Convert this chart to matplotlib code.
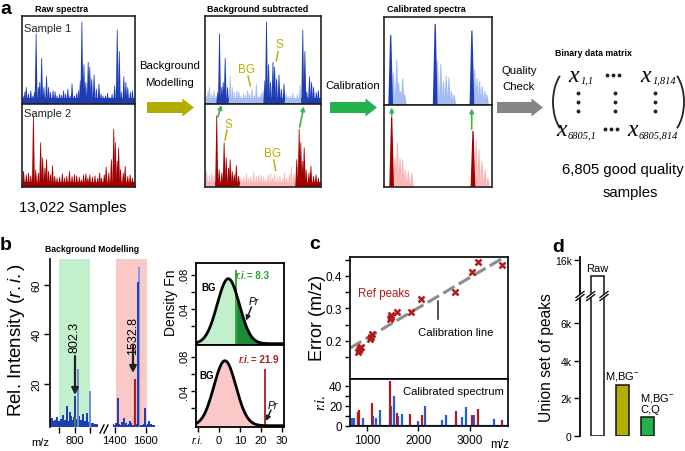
import numpy as np
import matplotlib
matplotlib.use('Agg')
import matplotlib.pyplot as plt
from matplotlib.patches import FancyArrow, Arc, Polygon

W, H = 685, 452
SANS = ['Liberation Sans', 'DejaVu Sans']
SERIF = ['Liberation Serif', 'DejaVu Serif']
plt.rcParams['font.family'] = SANS
plt.rcParams['mathtext.fontset'] = 'custom'
plt.rcParams['mathtext.rm'] = 'Liberation Sans'
plt.rcParams['mathtext.it'] = 'Liberation Sans:italic'
plt.rcParams['mathtext.bf'] = 'Liberation Sans:bold'

# ---------------- data ----------------
# panel a : schematic spectra (normalised position, relative height)
s1_pos = [.009, .026, .038, .058, .078, .096, .110, .125, .145, .157, .174, .194, .217, .235, .252,
          .275, .293, .310, .333, .351, .368, .386, .406, .426, .443, .464, .484, .501, .516, .530,
          .548, .565, .586, .600, .617, .638, .658, .681, .699, .716, .739, .757, .774, .797, .820,
          .843, .861, .878, .901, .919, .936, .959, .977]
s1_h = [.095, .141, .191, .115, .153, .095, .134, .802, .191, .248, .523, .191, .317, .191, .134,
        .153, .141, .095, .115, .103, .153, .115, .172, .095, .229, .095, .126, .153, .267, .935,
        .450, .248, .477, .420, .286, .332, .172, .229, .115, .095, .095, .126, .076, .115, .210,
        .844, .600, .141, .313, .248, .191, .134, .153]
s2_pos = [.014, .038, .058, .078, .101, .122, .145, .165, .183, .203, .217, .235, .252, .270, .290,
          .310, .333, .357, .377, .397, .420, .443, .464, .484, .507, .525, .545, .565, .583, .600,
          .623, .646, .670, .687, .704, .728, .745, .768, .791, .812, .826, .843, .855, .872, .896,
          .913, .936, .957, .977]
s2_h = [.191, .150, .171, .138, .862, .211, .171, .537, .354, .232, .333, .191, .150, .260, .130,
        .110, .122, .163, .110, .130, .191, .130, .150, .138, .122, .089, .150, .163, .110, .150,
        .122, .138, .110, .171, .110, .150, .244, .171, .333, .699, .537, .313, .476, .211, .171,
        .252, .130, .150, .110]
s1_signal = [(0.10, 0.205), (0.505, 0.69), (0.83, 1.0)]
s2_signal = [(0.085, 0.30), (0.79, 1.0)]

cal1_dark_pos = [.062, .474, .814]
cal1_dark_h = [.795, .922, .845]
cal1_light_pos = [.087, .118, .136, .155, .173, .192, .495, .526, .551, .576, .601, .625, .650,
                  .839, .861, .885, .910, .935, .954]
cal1_light_h = [.368, .512, .252, .155, .302, .116, .504, .465, .271, .329, .310, .155, .116,
                .407, .302, .271, .213, .155, .116]
cal2_dark_pos = [.071, .824]
cal2_dark_h = [.854, .683]
cal2_light_pos = [.102, .124, .149, .173, .198, .226, .257, .854, .879, .907, .935, .963]
cal2_light_h = [.358, .541, .358, .337, .215, .195, .175, .581, .459, .317, .215, .114]

matrix_rows = ['1', '6805']
matrix_cols = ['1', '814']

# panel b : background modelling spectrum
bm_left_range = (490, 1100)
bm_left_noise = [5.5, 4.2, 6.0, 4.8, 3.9, 5.2, 6.5, 4.4, 5.0, 3.8, 5.8, 4.6, 7.2, 4.0, 5.4, 4.3,
                 6.1, 5.0, 4.2, 8.5, 4.7, 5.3, 4.1, 6.4, 4.9, 3.9, 5.6, 4.4, 6.8, 4.2, 5.1, 4.6,
                 7.5, 4.3, 5.0, 4.8, 6.2, 4.1, 4.5, 3.8, 4.2, 3.6, 4.0, 3.4, 3.8, 3.3, 3.6, 3.2]
bm_right_range = (1392, 1658)
bm_right_noise = [3.6, 3.2, 4.0, 3.4, 3.1, 3.8, 3.3, 4.4, 3.2, 3.5, 3.0, 3.9, 3.3, 3.6, 3.1, 4.2,
                  3.4, 3.2, 3.7, 3.0, 3.5, 3.3, 4.6, 3.2, 3.4, 3.0, 3.8, 3.3, 3.1, 3.6, 3.2, 3.0,
                  3.5, 3.1, 3.3, 3.0]
bm_left_peak_mz = [700, 752, 802.3, 847, 960, 1000]
bm_left_peak_ri = [11, 7, 15, 26, 8, 17]
bm_left_peak_dark = [True, True, True, False, True, False]
bm_right_peak_mz = [1425, 1462, 1500, 1555, 1553, 1596, 1620]
bm_right_peak_ri = [14, 6, 5, 67, 61, 10, 5]
bm_right_peak_dark = [True, True, True, False, True, True, True]
bm_check_mz = [802.3, 1532.8]
bm_check_ri = [6, 22]
bg_mean = [4.4, 2.8]
bg_sd = [5.3, 5.3]
ri_obs = [8.3, 21.9]

# panel c : calibration
ref_mz = [818, 845, 863, 880, 1060, 1085, 1100, 1450, 1460, 1470, 1580, 1855, 2060, 2710, 3040, 3160, 3630]
ref_err = [0.165, 0.172, 0.178, 0.180, 0.206, 0.213, 0.222, 0.268, 0.281, 0.275, 0.290, 0.290,
           0.330, 0.350, 0.413, 0.442, 0.432]
cal_line_mz = [670, 3745]
cal_line_err = [0.178, 0.464]
spec_red_mz = [817, 850, 1091, 1451, 1582, 1843, 2072, 2725, 3039, 3163, 3628]
spec_red_ri = [14, 16, 23, 45, 13, 12, 11, 15, 11, 17, 6]
spec_blue_mz = [700, 745, 830, 928, 1124, 1176, 1255, 1464, 1529, 1601, 1680, 1987, 2137, 2464,
                2529, 2738, 2856, 2921, 3085, 3464]
spec_blue_ri = [8, 8, 10, 8, 10, 8, 16, 20, 30, 10, 12, 5, 20, 6, 11, 8, 9, 19, 11, 7]

# panel d : union set of peaks
d_labels = ['Raw', 'M,BG$^{-}$', 'M,BG$^{-}$\nC,Q']
d_values = [14400, 2700, 1020]

# ---------------- colours ----------------
BLUE = '#1e3cb4'
LBLUE = '#a3bcf2'
RED = '#a00000'
PINK = '#f8b8b8'
OLIVE = '#b3ad00'
GREEN = '#22b14c'
GRAY = '#858585'
GREEN_BG = '#c3f0cc'
RED_BG = '#fbc8c8'
DGREEN = '#1f8a3a'
CRED = '#b01c1c'
CBLUE = '#2a5bd7'

fig = plt.figure(figsize=(W / 100, H / 100), dpi=100)


def add_ax(x0, y0, x1, y1, **kw):
    return fig.add_axes([x0 / W, 1 - y1 / H, (x1 - x0) / W, (y1 - y0) / H], **kw)


def box_style(ax):
    ax.set_xlim(0, 1)
    ax.set_ylim(0, 1)
    ax.set_xticks([])
    ax.set_yticks([])
    for s in ax.spines.values():
        s.set_linewidth(1.2)
        s.set_color('#222222')


def draw_peaks(ax, pos, h, cols, hw):
    for p, v, c in zip(pos, h, cols):
        ax.fill([p - hw, p - hw * 0.25, p + hw * 0.25, p + hw], [0, v, v, 0], color=c, lw=0)


def in_regions(p, regs):
    return any(a <= p <= b for a, b in regs)


# ---------- panel a ----------
raw_t = add_ax(22, 17, 135, 105)
raw_b = add_ax(22, 105, 135, 188)
bgs_t = add_ax(205, 17, 321, 105)
bgs_b = add_ax(205, 105, 321, 188)
cal_t = add_ax(384, 18, 492, 106)
cal_b = add_ax(384, 106, 492, 188)
for ax in (raw_t, raw_b, bgs_t, bgs_b, cal_t, cal_b):
    box_style(ax)

BAND = 0.065
raw_t.fill_between([0, 1], 0, BAND, color=BLUE, lw=0)
draw_peaks(raw_t, s1_pos, s1_h, [BLUE] * len(s1_pos), 0.013)
raw_b.fill_between([0, 1], 0, BAND, color=RED, lw=0)
draw_peaks(raw_b, s2_pos, s2_h, [RED] * len(s2_pos), 0.013)

for ax, pos, h, regs, dk, lt in ((bgs_t, s1_pos, s1_h, s1_signal, BLUE, LBLUE),
                                 (bgs_b, s2_pos, s2_h, s2_signal, RED, PINK)):
    ax.fill_between([0, 1], 0, BAND, color=lt, lw=0)
    for a, b in regs:
        ax.fill_between([a, b], 0, BAND, color=dk, lw=0)
    cols = [dk if in_regions(p, regs) else lt for p in pos]
    draw_peaks(ax, pos, h, cols, 0.013)

draw_peaks(cal_t, cal1_light_pos, cal1_light_h, [LBLUE] * len(cal1_light_pos), 0.018)
draw_peaks(cal_t, cal1_dark_pos, cal1_dark_h, [BLUE] * len(cal1_dark_pos), 0.022)
draw_peaks(cal_b, cal2_light_pos, cal2_light_h, [PINK] * len(cal2_light_pos), 0.018)
draw_peaks(cal_b, cal2_dark_pos, cal2_dark_h, [RED] * len(cal2_dark_pos), 0.022)

# ---------- panel b : spectrum with broken axis ----------
bL = add_ax(50, 260, 98, 428)
bR = add_ax(113, 260, 155, 428)
for ax in (bL, bR):
    ax.set_ylim(2.4, 70.4)
    for s in ax.spines.values():
        s.set_visible(False)
    ax.tick_params(axis='x', length=4, width=1, labelsize=8, pad=2)
bL.spines['left'].set_visible(True)
bL.spines['left'].set_linewidth(1.2)
bL.set_xlim(484, 1103)
bR.set_xlim(1390, 1660)
bL.axvspan(600, 1000, color=GREEN_BG, lw=0)
bR.axvspan(1410, 1610, color=RED_BG, lw=0)
xl = np.linspace(bm_left_range[0], bm_left_range[1], len(bm_left_noise))
xr = np.linspace(bm_right_range[0], bm_right_range[1], len(bm_right_noise))
bL.vlines(xl, 2.4, bm_left_noise, color=BLUE, lw=1.4)
bR.vlines(xr, 2.4, bm_right_noise, color=BLUE, lw=1.4)
bL.vlines(bm_left_peak_mz, 2.4, bm_left_peak_ri,
          colors=[BLUE if d else '#6f8fe0' for d in bm_left_peak_dark], lw=1.4)
bR.vlines(bm_right_peak_mz, 2.4, bm_right_peak_ri,
          colors=[BLUE if d else '#7f9be6' for d in bm_right_peak_dark], lw=1.4)
bL.vlines([bm_check_mz[0]], 2.4, [bm_check_ri[0]], color='#2ca02c', lw=1.2)
bR.vlines([bm_check_mz[1]], 2.4, [bm_check_ri[1]], color=CRED, lw=1.6)
bL.set_xticks([600, 800, 1000])
bL.set_xticklabels(['', '800', ''])
bR.set_xticks([1400, 1600])
bR.set_yticks([])
bL.set_yticks([20, 40, 60])
bL.tick_params(axis='y', length=4, width=1, labelsize=8, labelrotation=90, pad=2)
for lb in bL.get_yticklabels():
    lb.set_va('center')

# ---------- panel b : density ----------
dT = add_ax(195.5, 264, 284, 346)
dB = add_ax(195.5, 346, 284, 428)
xg = np.linspace(-11.3, 31.1, 500)
for i, ax in enumerate((dT, dB)):
    ax.set_xlim(-11.3, 31.1)
    ax.set_ylim(-0.0015, 0.0935)
    y = np.exp(-0.5 * ((xg - bg_mean[i]) / bg_sd[i]) ** 2) / (bg_sd[i] * np.sqrt(2 * np.pi))
    if i == 0:
        ax.fill_between(xg, 0, y, where=xg <= ri_obs[0], color=GREEN_BG, lw=0)
        ax.fill_between(xg, 0, y, where=xg >= ri_obs[0], color=DGREEN, lw=0)
        ax.vlines(ri_obs[0], 0, 0.085, color='#2ca02c', lw=1.3)
    else:
        ax.fill_between(xg, 0, y, color=RED_BG, lw=0)
        ax.vlines(ri_obs[1], 0, 0.066, color=CRED, lw=1.3)
    ax.plot(xg, y, color='k', lw=2)
    for s in ax.spines.values():
        s.set_linewidth(1.3)
    ax.set_yticks([0.02, 0.04, 0.06, 0.08])
    ax.set_yticklabels(['', '.04', '', '.08'])
    ax.tick_params(axis='y', length=3.5, width=1, labelsize=8, labelrotation=90, pad=1)
    for lb in ax.get_yticklabels():
        lb.set_va('center')
    ax.set_xticks([-10, 0, 10, 20, 30])
    ax.tick_params(axis='x', length=3.5, width=1, labelsize=8, pad=2)
dT.set_xticklabels([])
dB.set_xticklabels(['r.i.', '0', '10', '20', '30'])
dB.get_xticklabels()[0].set_style('italic')

# ---------- panel c ----------
cT = add_ax(350, 258, 508, 380)
cB = add_ax(350, 380, 508, 427)
for ax in (cT, cB):
    ax.set_xlim(670, 3745)
    for s in ax.spines.values():
        s.set_linewidth(1.2)
cT.set_ylim(0.083, 0.458)
cT.plot(cal_line_mz, cal_line_err, color='#8c8c8c', lw=2.2, dashes=(4.3, 1.6), zorder=2)
cT.plot(ref_mz, ref_err, ls='none', marker='x', ms=4.8, mew=1.8, color=CRED, zorder=3)
cT.set_xticks([])
cT.set_yticks([0.15, 0.2, 0.25, 0.3, 0.35, 0.4, 0.45])
cT.set_yticklabels(['', '0.2', '', '0.3', '', '0.4', ''])
cT.tick_params(axis='y', length=3.5, width=1, labelsize=8.5, pad=2)
cB.set_ylim(-0.5, 47)
cB.axhline(0, color=CBLUE, lw=1.6)
cB.vlines(spec_blue_mz, 0, spec_blue_ri, color=CBLUE, lw=1.6)
cB.vlines(spec_red_mz, 0, spec_red_ri, color=CRED, lw=1.6)
cB.set_xticks([1000, 2000, 3000])
cB.set_yticks([0, 10, 20, 30, 40])
cB.set_yticklabels(['0', '', '20', '', '40'])
cB.tick_params(axis='both', length=3.5, width=1, labelsize=8.5, pad=2)

# ---------- panel d ----------
xd = np.arange(len(d_values))
dL = add_ax(580, 292, 668, 437)
dU = add_ax(580, 258, 668, 292)
dL.set_ylim(0, 7690)
dU.set_ylim(12900, 16300)
dcols = ['white', OLIVE, GREEN]
for ax in (dL, dU):
    ax.set_xlim(-0.69, 2.83)
    ax.bar(xd, d_values, width=0.53, color=dcols, edgecolor='#111111', lw=1.1)
    for k in ('top', 'right', 'bottom'):
        ax.spines[k].set_visible(False)
    ax.spines['left'].set_linewidth(1.3)
    ax.set_xticks([])
    ax.tick_params(axis='y', length=4, width=1, labelsize=7.5, pad=2)
dL.set_yticks([0, 2000, 4000, 6000])
dL.set_yticklabels(['0', '2k', '4k', '6k'])
dU.set_yticks([16000])
dU.set_yticklabels(['16k'])
dU.text(xd[0], d_values[0] + 250, d_labels[0], ha='center', va='bottom', fontsize=8)
dL.text(xd[1], d_values[1] + 150, d_labels[1], ha='center', va='bottom', fontsize=8,
        linespacing=1.0)
dL.text(xd[2] - 0.27, d_values[2] + 150, d_labels[2], ha='left', va='bottom', fontsize=8,
        linespacing=1.0)

# ---------- overlay : text, arrows ----------
ov = fig.add_axes([0, 0, 1, 1], zorder=20)
ov.set_xlim(0, W)
ov.set_ylim(H, 0)
ov.axis('off')
ov.patch.set_alpha(0)


def T(x, y, s, **kw):
    kw.setdefault('ha', 'center')
    kw.setdefault('va', 'center')
    return ov.text(x, y, s, **kw)


# panel letters
for x, y, s in ((6, 9, 'a'), (6, 246, 'b'), (315, 245, 'c'), (558, 248, 'd')):
    T(x, y, s, fontsize=14, fontweight='bold')

# panel a texts
T(35, 10, 'Raw spectra', ha='left', fontsize=6.5, fontweight='bold')
T(207, 9, 'Background subtracted', ha='left', fontsize=6.5, fontweight='bold')
T(387, 9, 'Calibrated spectra', ha='left', fontsize=6.5, fontweight='bold')
T(24, 29, 'Sample 1', ha='left', fontsize=8, color='#222222')
T(24, 114, 'Sample 2', ha='left', fontsize=8, color='#222222')
T(73, 208, '13,022 Samples', fontsize=10.7)
T(169.5, 66, 'Background', fontsize=8.2)
T(169.5, 83, 'Modelling', fontsize=8.2)
T(352.5, 86, 'Calibration', fontsize=8.2)
T(519, 71, 'Quality', fontsize=8.2)
T(519, 87.5, 'Check', fontsize=8.2)
for x0, x1, c in ((147, 194, OLIVE), (330, 377, GREEN), (497, 543, GRAY)):
    ov.add_patch(FancyArrow(x0, 108.5, x1 - x0, 0, width=11, head_width=18, head_length=11.5,
                            length_includes_head=True, color=c, lw=0))

# S / BG labels
YEL = '#b8b000'
for (tx, ty, s, lx0, ly0, lx1, ly1) in ((247, 70, 'BG', 248, 77, 250.3, 86.7),
                                        (279, 45.5, 'S', 278, 53, 276.3, 61.7),
                                        (228, 124.5, 'S', 227, 131, 225, 141),
                                        (272.3, 154.5, 'BG', 273.7, 161, 275.7, 171.3)):
    T(tx, ty, s, fontsize=8.5, color=YEL)
    ov.plot([lx0, lx1], [ly0, ly1], color=YEL, lw=1.1)

# green calibration arrows
GA = '#3cb44b'
for (x0, y0, x1, y1) in ((218, 118, 221.3, 106), (299.7, 128, 303.7, 107.5),
                         (391.7, 117, 391.7, 108.5), (471.7, 130, 471.7, 109.5)):
    ov.annotate('', xy=(x1, y1), xytext=(x0, y0),
                arrowprops=dict(arrowstyle='-|>', color=GA, lw=1.2, mutation_scale=6,
                                shrinkA=0, shrinkB=0))

# binary data matrix
T(555, 53, 'Binary data matrix', ha='left', fontsize=6.3, fontweight='bold')
xs_big = dict(fontsize=17, style='italic', family=SERIF)
xs_sub = dict(fontsize=7.5, style='italic', family=SERIF, ha='left')
T(574, 76, 'x', **xs_big)
T(580.5, 81, matrix_rows[0] + ',' + matrix_cols[0], **xs_sub)
T(646, 76, 'x', **xs_big)
T(652.5, 81, matrix_rows[0] + ',' + matrix_cols[1], **xs_sub)
T(562, 131, 'x', **xs_big)
T(567.5, 136, matrix_rows[1] + ',' + matrix_cols[0], **xs_sub)
T(633, 131, 'x', **xs_big)
T(638.5, 136, matrix_rows[1] + ',' + matrix_cols[1], **xs_sub)
for cx, cy in ((613, 76), (611, 130)):
    ov.plot([cx - 6, cx, cx + 6], [cy, cy, cy], ls='none', marker='o', ms=1.8, color='#222222')
for cx in (578, 615, 655):
    ov.plot([cx, cx, cx], [94, 103, 112], ls='none', marker='o', ms=1.8, color='#222222')
ov.add_patch(Arc((575, 103), 44, 72, theta1=120, theta2=240, color='#222222', lw=1.3))
ov.add_patch(Arc((662, 103), 44, 72, theta1=-60, theta2=60, color='#222222', lw=1.3))
T(622.5, 170, '6,805 good quality', fontsize=10.7)
T(630, 193, 'samples', fontsize=10.7)

# panel b texts
T(45, 250, 'Background Modelling', ha='left', fontsize=6.2, fontweight='bold')
T(17, 340, r'Rel. Intensity ($\mathit{r.i.}$)', rotation=90, fontsize=13.5)
T(40.5, 443, 'm/z', fontsize=8)
ov.plot([100, 104], [434, 426], color='k', lw=1)
ov.plot([104, 108], [434, 426], color='k', lw=1)
T(75, 337.5, '802.3', rotation=90, fontsize=9)
T(133, 336, '1532.8', rotation=90, fontsize=9)
for x, y0, y1 in ((75, 357, 396), (133, 347, 374)):
    ov.annotate('', xy=(x, y1), xytext=(x, y0),
                arrowprops=dict(arrowstyle='-|>', color='#222222', lw=1.6, mutation_scale=10,
                                shrinkA=0, shrinkB=0))
T(171.5, 302.5, 'Density Fn', rotation=90, fontsize=10)
T(208.5, 288.5, 'BG', fontsize=7, fontweight='bold')
T(206.5, 376.5, 'BG', fontsize=7, fontweight='bold')
T(235.7, 276, 'r.i.', ha='left', fontsize=7, fontweight='bold', style='italic', color='#2ca02c')
T(247, 276, '= ' + str(ri_obs[0]), ha='left', fontsize=7, fontweight='bold', color='#2ca02c')
T(239, 360, 'r.i.', ha='left', fontsize=7, fontweight='bold', style='italic', color=CRED)
T(250.7, 360, '= ' + str(ri_obs[1]), ha='left', fontsize=7, fontweight='bold', color=CRED)
T(254, 302, 'Pr', fontsize=7.5, style='italic')
T(273, 406, 'Pr', fontsize=7.5, style='italic')
for (x0, y0, x1, y1) in ((251.5, 308, 246, 321.5), (271, 411, 266, 422)):
    ov.annotate('', xy=(x1, y1), xytext=(x0, y0),
                arrowprops=dict(arrowstyle='-|>', color='#222222', lw=1.1, mutation_scale=7,
                                shrinkA=0, shrinkB=0))

# panel c texts
T(317.5, 317.5, 'Error (m/z)', rotation=90, fontsize=13)
T(321, 402, 'r.i.', rotation=90, fontsize=11, style='italic', family=SERIF)
T(384, 294, 'Ref peaks', fontsize=8.3, color=CRED)
T(455.5, 333, 'Calibration line', fontsize=8.2)
ov.plot([437.7, 437.7], [302, 320], color='#222222', lw=1.1)
T(453, 392, 'Calibrated spectrum', fontsize=8.1)
T(500, 445, 'm/z', fontsize=8.5)

# panel d texts
T(546.5, 357.5, 'Union set of peaks', rotation=90, fontsize=11.2)
for x in (580, 590.7, 604):
    ov.add_patch(Polygon([[x - 4, 298.5], [x + 4, 292.5], [x + 4, 295.5], [x - 4, 301.5]],
                         closed=True, color='white', lw=0))
    ov.plot([x - 4, x + 4], [298.5, 292.5], color='#111111', lw=1)
    ov.plot([x - 4, x + 4], [301.5, 295.5], color='#111111', lw=1)

fig.savefig('out.png', dpi=100)
